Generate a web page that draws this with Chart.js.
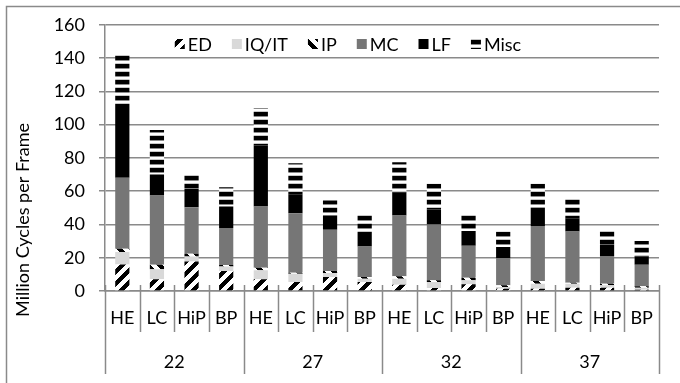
<!DOCTYPE html>
<html>
<head>
<meta charset="utf-8">
<script src="https://cdn.jsdelivr.net/npm/chart.js@4.4.0/dist/chart.umd.min.js"></script>
<style>
  html, body { margin: 0; padding: 0; background: #fff; }
  #wrap { position: relative; width: 680px; height: 383px; }
</style>
</head>
<body>
<div id="wrap"><canvas id="chart"></canvas></div>
<script>
// data
const groups = ['22', '27', '32', '37']
const configs = ['HE', 'LC', 'HiP', 'BP']
const yMin = 0, yMax = 160, yStep = 20
const seriesNames = ['ED', 'IQ/IT', 'IP', 'MC', 'LF', 'Misc']

const ed   = [16, 7, 17.8, 12,   7, 5.4, 8.4, 5.4,   3.8, 1.8, 4, 1.4,   1.4, 2, 2, 0.8]
const iqit = [7.4, 6, 3, 2.8,    5.4, 5, 2.4, 2,     3.6, 3.6, 2.4, 1,   3, 2.4, 1.4, 1.2]
const ip   = [2, 2.8, 1.6, 0.8,  1.6, 0.6, 1.2, 1,   1.4, 1, 1.6, 1,     1.6, 0.6, 1, 0.8]
const mc   = [42.6, 41.6, 28, 22.2,  36.8, 35.8, 24.8, 18.4,  36.6, 33.6, 19.2, 16.4,  33, 30.8, 16.6, 13]
const lf   = [44.4, 12.6, 11, 13,    36.6, 11, 8.6, 8.6,      13.6, 9, 8.8, 6.6,        11, 8, 7, 5]
const misc = [30, 26.8, 9, 11.6,     22.6, 19, 9, 11,         18.4, 15.4, 9.8, 9.4,     14.4, 12.6, 8.8, 9.2]

// one label per bar: HE LC HiP BP for each group
const labels = []
groups.forEach(g => configs.forEach(c => labels.push(c)))

const FONT = 'Lato, "Open Sans", sans-serif'
const LINE = '#8a8a8a'

const canvas = document.getElementById('chart')
const ctx = canvas.getContext('2d')

// little pixel patterns like the excel fills
function makePattern(w, h, fn) {
  const c = document.createElement('canvas')
  c.width = w; c.height = h
  const g = c.getContext('2d')
  const img = g.createImageData(w, h)
  for (let y = 0; y < h; y++) {
    for (let x = 0; x < w; x++) {
      const v = fn(x, y)
      const i = (y * w + x) * 4
      img.data[i] = img.data[i + 1] = img.data[i + 2] = v
      img.data[i + 3] = 255
    }
  }
  g.putImageData(img, 0, 0)
  return ctx.createPattern(c, 'repeat')
}

const upDiag = makePattern(12, 12, (x, y) => ((x + y) % 12) < 6 ? 0 : 255)
const downDiag = makePattern(12, 12, (x, y) => ((x - y + 120) % 12) < 6 ? 0 : 255)
const hStripes = makePattern(8, 8, (x, y) => [0, 0, 0, 0, 140, 255, 255, 200][y])

const fills = [upDiag, '#d9d9d9', downDiag, '#767676', '#000000', hStripes]
const values = [ed, iqit, ip, mc, lf, misc]

const datasets = seriesNames.map((name, i) => ({
  label: name,
  data: values[i],
  backgroundColor: fills[i],
  borderWidth: 0,
  barPercentage: 0.41,
  categoryPercentage: 1.0
}))

// draws the frame, y title, two level category separators, group labels, legend
const extras = {
  id: 'extras',
  afterDraw(chart) {
    const c = chart.ctx
    const x = chart.scales.x
    const area = chart.chartArea
    c.save()

    // outer frame (right / bottom fall off the picture)
    c.strokeStyle = LINE
    c.lineWidth = 1.5
    c.beginPath()
    c.moveTo(6.5, 383); c.lineTo(6.5, 6.5); c.lineTo(680, 6.5)
    c.stroke()

    // y axis title
    c.fillStyle = '#000'
    c.font = '18px ' + FONT
    c.textAlign = 'center'
    c.textBaseline = 'middle'
    c.save()
    c.translate(23, 220)
    c.rotate(-Math.PI / 2)
    c.fillText('Million Cycles per Frame', 0, 0)
    c.restore()

    // category separators
    const step = (x.right - x.left) / labels.length
    c.lineWidth = 1.5
    for (let i = 0; i <= labels.length; i++) {
      const px = Math.round(x.left + i * step) + 0.5
      const isGroup = i % configs.length === 0
      c.beginPath()
      c.moveTo(px, area.bottom - 6)
      c.lineTo(px, area.bottom + (isGroup ? 83 : 41))
      c.stroke()
    }

    // group labels
    groups.forEach((g, gi) => {
      const cx = x.left + (gi * configs.length + configs.length / 2) * step
      c.fillText(g, cx, area.bottom + 71)
    })

    // legend
    c.font = '18px ' + FONT
    c.textAlign = 'left'
    const box = 10, gapText = 3, gapItem = 20
    const widths = chart.data.datasets.map(d => box + gapText + c.measureText(d.label).width)
    const total = widths.reduce((a, b) => a + b, 0) + gapItem * (widths.length - 1)
    let lx = 348 - total / 2
    const ly = 44
    chart.data.datasets.forEach((d, i) => {
      c.fillStyle = d.backgroundColor
      c.fillRect(lx, ly - box / 2, box, box)
      c.fillStyle = '#000'
      c.fillText(d.label, lx + box + gapText, ly + 1)
      lx += widths[i] + gapItem
    })

    c.restore()
  }
}

new Chart(canvas, {
  type: 'bar',
  data: { labels: labels, datasets: datasets },
  options: {
    responsive: true,
    maintainAspectRatio: false,
    animation: false,
    layout: { padding: { top: 24, right: 21, left: 0, bottom: 0 } },
    plugins: {
      legend: { display: false },
      tooltip: { enabled: false }
    },
    scales: {
      x: {
        stacked: true,
        grid: { display: false, drawTicks: false },
        border: { color: LINE, width: 1.5 },
        ticks: { color: '#000', font: { family: FONT, size: 18 }, padding: 16, maxRotation: 0, autoSkip: false },
        afterFit(scale) { scale.height = 92 }
      },
      y: {
        stacked: true,
        min: yMin,
        max: yMax,
        ticks: { stepSize: yStep, color: '#000', font: { family: FONT, size: 18 }, padding: 14 },
        grid: { color: LINE, lineWidth: 1.5, tickLength: 6 },
        border: { color: LINE, width: 1.5 },
        afterFit(scale) { scale.width = 105 }
      }
    }
  },
  plugins: [extras]
})
</script>
</body>
</html>
